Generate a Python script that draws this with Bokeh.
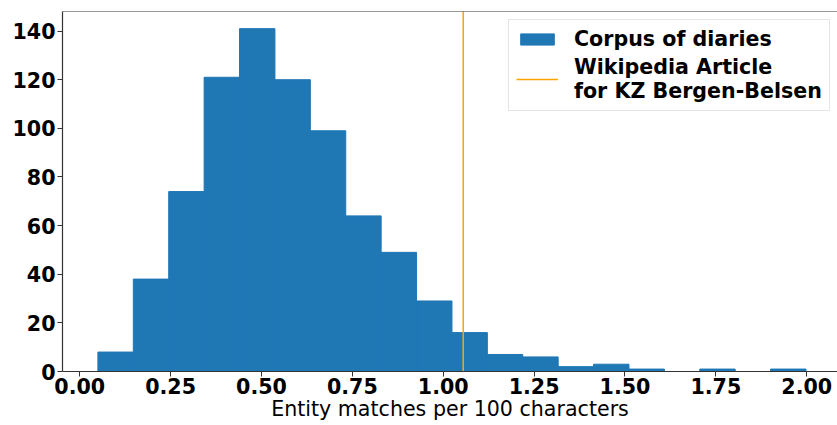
import numpy as np
from bokeh.plotting import figure
from bokeh.models import Span, FixedTicker, NumeralTickFormatter, Legend, LegendItem
from bokeh.embed import file_html
from bokeh.resources import INLINE

# Histogram data
bin_start = 0.05
bin_end = 1.998
counts = [8, 38, 74, 121, 141, 120, 99, 64, 49, 29, 16, 7, 6, 2, 3, 1, 0, 1, 0, 1]
wiki_value = 1.055
x_ticks = [0.0, 0.25, 0.5, 0.75, 1.0, 1.25, 1.5, 1.75, 2.0]
y_ticks = [0, 20, 40, 60, 80, 100, 120, 140]
bar_label = "Corpus of diaries"
line_label = "Wikipedia Article\nfor KZ Bergen-Belsen"
x_label = "Entity matches per 100 characters"

edges = np.linspace(bin_start, bin_end, len(counts) + 1)
width_span = bin_end - bin_start
ymax = max(counts) * 1.05
x_start = bin_start - 0.05 * width_span

W, H = 837, 425
LEFT, TOP, BOTTOM = 62, 11, 54
px_per_unit = 363.5
x_end = x_start + (W - LEFT) / px_per_unit

FONT = "DejaVu Sans"
BLUE = "#1f77b4"
FS = "20.6px"

p = figure(width=W, height=H, output_backend="svg", toolbar_location=None,
           x_range=(x_start, x_end), y_range=(0, ymax),
           min_border_left=LEFT, min_border_right=0, min_border_top=TOP, min_border_bottom=BOTTOM)
p.grid.visible = False
p.outline_line_color = None
p.background_fill_color = "white"
p.border_fill_color = "white"

bars = p.quad(left=edges[:-1], right=edges[1:], bottom=0, top=counts,
              fill_color=BLUE, line_color=BLUE, line_width=1)
vline = p.line(x=[wiki_value, wiki_value], y=[-10, 1000], line_color="#ffa500", line_width=1.5)

p.add_layout(Span(location=ymax, dimension="width", line_color="#333333", line_width=1.2))

for ax in (p.xaxis[0], p.yaxis[0]):
    ax.axis_line_color = "#333333"
    ax.axis_line_width = 1.2
    ax.major_tick_line_color = "#333333"
    ax.major_tick_line_width = 1
    ax.major_tick_out = 5
    ax.major_tick_in = 0
    ax.minor_tick_line_color = None
    ax.major_label_text_font = FONT
    ax.major_label_text_font_style = "bold"
    ax.major_label_text_font_size = FS
    ax.major_label_text_color = "black"

p.xaxis[0].ticker = FixedTicker(ticks=x_ticks)
p.xaxis[0].formatter = NumeralTickFormatter(format="0.00")
p.xaxis[0].major_label_standoff = 1
p.xaxis[0].axis_label = x_label
p.xaxis[0].axis_label_text_font = FONT
p.xaxis[0].axis_label_text_font_style = "normal"
p.xaxis[0].axis_label_text_font_size = FS
p.xaxis[0].axis_label_standoff = 0
p.xaxis[0].axis_label_text_color = "black"

p.yaxis[0].ticker = FixedTicker(ticks=y_ticks)
p.yaxis[0].major_label_standoff = 2

legend = Legend(items=[LegendItem(label=bar_label, renderers=[bars]),
                       LegendItem(label=line_label, renderers=[vline])],
                location=(508 - LEFT, (H - BOTTOM) - 111))
legend.label_text_font = FONT
legend.label_text_font_style = "bold"
legend.label_text_font_size = FS
legend.label_text_color = "black"
legend.label_standoff = 16
legend.glyph_width = 42
legend.glyph_height = 14
legend.padding = 7
legend.spacing = 4
legend.margin = 0
legend.border_line_color = "#cccccc"
legend.border_line_width = 1
legend.background_fill_alpha = 0.8
p.add_layout(legend)

open("out.html", "w").write(file_html(p, INLINE))
